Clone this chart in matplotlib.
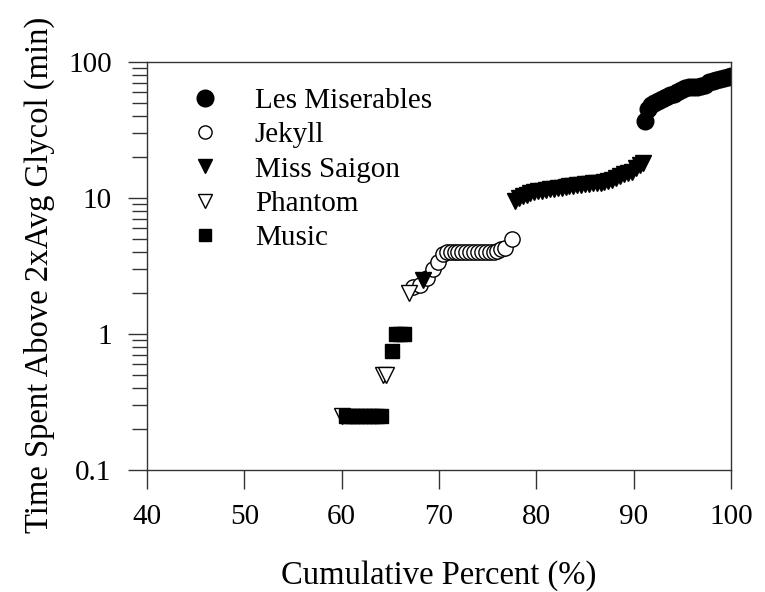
import numpy as np
import matplotlib
matplotlib.use("Agg")
import matplotlib.pyplot as plt
from matplotlib.lines import Line2D
from matplotlib.ticker import LogLocator, FuncFormatter, NullFormatter

plt.rcParams['font.family'] = ['Liberation Serif', 'DejaVu Serif']

# data
music_x = [60.4, 60.8, 61.2, 61.6, 62.0, 62.4, 62.8, 63.2, 63.6, 64.0, 65.2, 65.6, 66.0, 66.4]
music_y = [0.25, 0.25, 0.25, 0.25, 0.25, 0.25, 0.25, 0.25, 0.25, 0.25, 0.75, 1.0, 1.0, 1.0]

phantom_x = [60.0, 64.2, 64.6, 66.9]
phantom_y = [0.25, 0.5, 0.5, 2.0]

jekyll_x = [67.3, 68.0, 68.8, 69.4, 69.9, 70.4, 70.8, 71.2, 71.6, 72.0, 72.4, 72.8, 73.2,
            73.6, 74.0, 74.4, 74.8, 75.2, 75.6, 76.0, 76.4, 76.8, 77.5]
jekyll_y = [2.2, 2.3, 2.6, 3.0, 3.4, 3.9, 4.0, 4.0, 4.0, 4.0, 4.0, 4.0, 4.0,
            4.0, 4.0, 4.0, 4.0, 4.0, 4.0, 4.1, 4.2, 4.3, 5.0]

saigon_x = [68.4, 77.8, 78.2, 78.6, 79.0, 79.4, 79.8, 80.2, 80.6, 81.0, 81.4, 81.8, 82.2,
            82.6, 83.0, 83.4, 83.8, 84.2, 84.6, 85.0, 85.4, 85.8, 86.2, 86.6, 87.0,
            87.4, 87.8, 88.2, 88.6, 89.0, 89.4, 89.8, 90.2, 90.6, 91.0]
saigon_y = [2.5, 9.5, 10.0, 10.3, 10.6, 10.8, 11.0, 11.2, 11.3, 11.5, 11.6, 11.7, 11.8,
            11.9, 12.0, 12.2, 12.3, 12.4, 12.5, 12.6, 12.7, 12.8, 12.9, 13.0, 13.2,
            13.4, 13.6, 14.0, 14.5, 15.0, 15.2, 15.5, 16.5, 17.5, 18.0]

lesmis_x = [91.2, 91.5, 91.8, 92.1, 92.5, 92.9, 93.3, 93.7, 94.1, 94.5, 94.9, 95.3,
            95.7, 96.1, 96.5, 96.9, 97.3, 97.7, 98.1, 98.5, 98.9, 99.3, 99.7, 100.0]
lesmis_y = [37, 45, 48, 50, 52, 53, 55, 57, 58, 60, 62, 64,
            65, 65.5, 66, 67, 68, 71, 73, 74, 75, 76, 77, 79]

labels = ['Les Miserables', 'Jekyll', 'Miss Saigon', 'Phantom', 'Music']

fig = plt.figure(figsize=(7.65, 5.92), dpi=100)
ax = fig.add_axes([147/765, 1 - 470/592, (731 - 147)/765, (470 - 62)/592])

ax.plot(lesmis_x, lesmis_y, 'o', ms=12, mfc='black', mec='black')
ax.plot(jekyll_x, jekyll_y, 'o', ms=11, mfc='white', mec='black', mew=1)
ax.plot(saigon_x, saigon_y, 'v', ms=11, mfc='black', mec='black')
ax.plot(phantom_x, phantom_y, 'v', ms=11, mfc='white', mec='black', mew=1)
ax.plot(music_x, music_y, 's', ms=9.5, mfc='black', mec='black')

ax.set_yscale('log')
ax.set_xlim(40, 100)
ax.set_ylim(0.1, 100)
ax.set_xticks([40, 50, 60, 70, 80, 90, 100])
ax.yaxis.set_major_locator(LogLocator(base=10, numticks=10))
ax.yaxis.set_minor_locator(LogLocator(base=10, subs=np.arange(2, 10), numticks=20))
ax.yaxis.set_major_formatter(FuncFormatter(lambda v, p: '%g' % v))
ax.yaxis.set_minor_formatter(NullFormatter())

ax.tick_params(axis='both', which='major', direction='out', length=13.5, width=1,
               labelsize=21, color='#333')
ax.tick_params(axis='y', which='major', pad=12)
ax.tick_params(axis='x', which='major', pad=11)
ax.tick_params(axis='y', which='minor', direction='out', length=11, width=1, color='#333')
ax.tick_params(top=False, right=False)
for s in ax.spines.values():
    s.set_linewidth(1)
    s.set_color('#333')

ax.set_xlabel('Cumulative Percent (%)', fontsize=23.5, labelpad=22)
ax.set_ylabel('Time Spent Above 2xAvg Glycol (min)', fontsize=23.5, labelpad=9)
ax.yaxis.label.set_y(0.478)

# legend with per-series marker sizes as in the reference
handles = [
    Line2D([], [], ls='', marker='o', ms=12, mfc='black', mec='black'),
    Line2D([], [], ls='', marker='o', ms=9.5, mfc='white', mec='black', mew=1),
    Line2D([], [], ls='', marker='v', ms=9.5, mfc='black', mec='black'),
    Line2D([], [], ls='', marker='v', ms=9.5, mfc='white', mec='black', mew=1),
    Line2D([], [], ls='', marker='s', ms=8.5, mfc='black', mec='black'),
]
fig.legend(handles, labels, loc='upper left', bbox_to_anchor=(176/765, 1 - 73/592),
           frameon=False, fontsize=21, borderpad=0, handlelength=1.0,
           handletextpad=1.2, labelspacing=0.27)

fig.savefig('out.png', dpi=100)
